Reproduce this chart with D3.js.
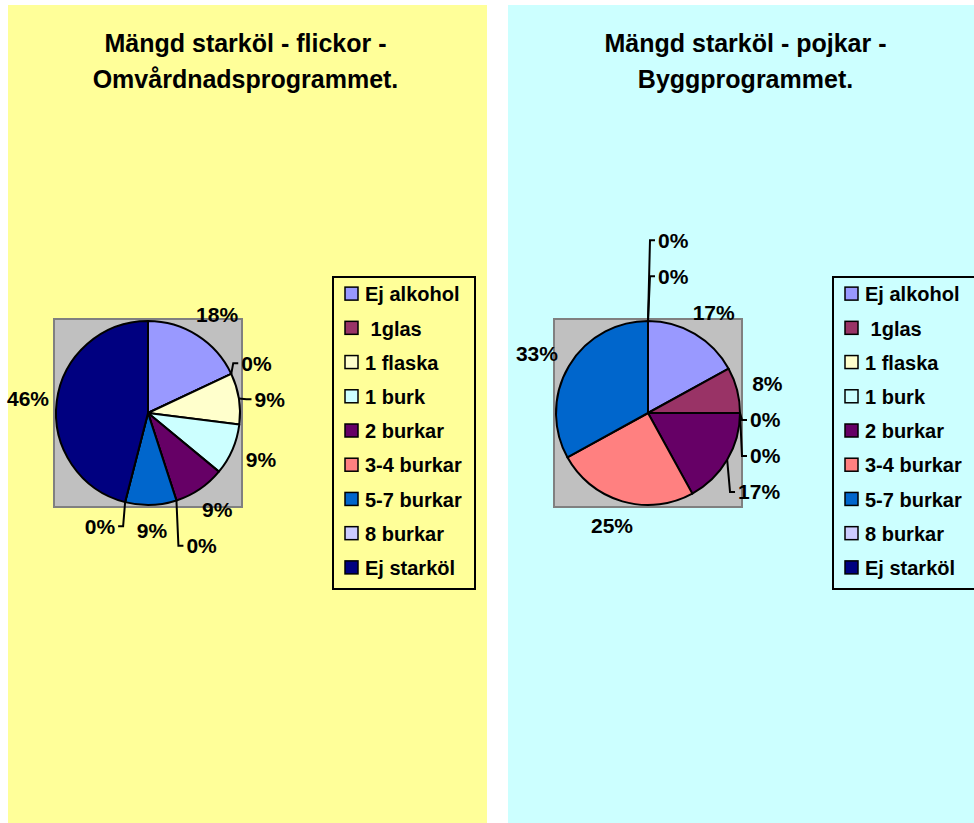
<!DOCTYPE html>
<html>
<head>
<meta charset="utf-8">
<script src="https://cdn.jsdelivr.net/npm/d3@7"></script>
<style>
  body { margin: 0; background: #fff; }
  svg { display: block; font-family: "Liberation Sans", Arial, sans-serif; font-weight: bold; }
</style>
</head>
<body>
<div id="container"></div>
<script>
// categories shared by both charts (Excel default palette)
var categories = ["Ej alkohol", " 1glas", "1 flaska", "1 burk", "2 burkar", "3-4 burkar", "5-7 burkar", "8 burkar", "Ej starköl"];
var sliceColors = ["#9999FF", "#993366", "#FFFFCC", "#CCFFFF", "#660066", "#FF8080", "#0066CC", "#CCCCFF", "#000080"];

// percentages
var girlsValues = [18, 0, 9, 9, 9, 0, 9, 0, 46];
var boysValues = [17, 8, 0, 0, 17, 25, 33, 0, 0];

var girlsTitle = ["Mängd starköl - flickor -", "Omvårdnadsprogrammet."];
var boysTitle = ["Mängd starköl - pojkar -", "Byggprogrammet."];

var width = 974,
    height = 823,
    panelW = 479,
    panelH = 818,
    radius = 92; // pie radius

var svg = d3.select("#container").append("svg")
  .attr("width", width)
  .attr("height", height);

var color = d3.scaleOrdinal().domain(categories).range(sliceColors);

// measure a label's width with the real font
function textWidth(str, size) {
  var t = svg.append("text").style("font-size", size + "px").text(str);
  var w = t.node().getComputedTextLength();
  t.remove();
  return w;
}

function drawChart(x0, bg, titleLines, values) {
  var g = svg.append("g").attr("transform", "translate(" + x0 + ",5)");

  g.append("rect")
    .attr("width", panelW).attr("height", panelH)
    .attr("fill", bg);

  // title
  g.selectAll(".title").data(titleLines).enter()
    .append("text")
    .attr("x", panelW / 2 - 2)
    .attr("y", function(d, i){ return 47 + i * 36; })
    .attr("text-anchor", "middle")
    .style("font-size", "25px")
    .text(function(d){ return d; });

  var cx = 140, cy = 408;

  // grey plot area
  g.append("rect")
    .attr("x", cx - 94).attr("y", cy - 94)
    .attr("width", 188).attr("height", 188)
    .attr("fill", "#C0C0C0")
    .attr("stroke", "#808080")
    .attr("stroke-width", 2);

  var pie = d3.pie().sort(null).value(function(d){ return d.v; });
  var arc = d3.arc().innerRadius(0).outerRadius(radius);
  var arcs = pie(values.map(function(v, i){ return {v: v, c: categories[i]}; }));

  var pg = g.append("g").attr("transform", "translate(" + cx + "," + cy + ")");
  pg.selectAll("path").data(arcs).enter()
    .append("path")
    .attr("d", arc)
    .attr("fill", function(d){ return color(d.data.c); })
    .attr("stroke", "#000")
    .attr("stroke-width", 2)
    .attr("stroke-linejoin", "round");

  // label layout -- natural spot outside the slice, then push apart
  var fs = 21, h = 18, gap = 36, pad = 8;
  var labels = arcs.map(function(d){
    var a = (d.startAngle + d.endAngle) / 2;
    var s = Math.sin(a), c = Math.cos(a);
    var txt = d.data.v + "%";
    var w = textWidth(txt, fs);
    var ax = s * radius, ay = -c * radius;
    var px = s * (radius + 16), py = -c * (radius + 16);
    var lx = px + s * w / 2, ly = py - c * h / 2;
    var zero = d.data.v === 0;
    var dir = s < -1e-9 ? -1 : 1;
    if (zero) lx = ax + dir * (10 + w / 2);
    lx = Math.max(lx, -cx + w / 2 - 1); // keep inside the chart area
    var push = c > 0.9 ? -1 : (s > 1e-9 ? 1 : -1);
    return {txt: txt, w: w, x: lx, y: ly, y0: ly, ax: ax, ay: ay, zero: zero, push: push};
  });

  labels.forEach(function(l, i){
    var hit = true;
    while (hit) {
      hit = false;
      for (var j = 0; j < i; j++) {
        var o = labels[j];
        if (Math.abs(l.x - o.x) < (l.w + o.w) / 2 + pad && Math.abs(l.y - o.y) < gap) {
          l.y = o.y + l.push * gap;
          hit = true;
        }
      }
    }
  });

  // leader lines
  pg.selectAll(".leader").data(labels.filter(function(l){ return l.zero || Math.abs(l.y - l.y0) > 1; }))
    .enter().append("path")
    .attr("fill", "none")
    .attr("stroke", "#000")
    .attr("stroke-width", 2)
    .attr("d", function(l){
      var dir = l.x >= l.ax ? 1 : -1;
      var ex = dir > 0 ? l.x - l.w / 2 - 3 : l.x + l.w / 2 + 3;
      return "M" + l.ax + "," + l.ay + "L" + (ex - 5 * dir) + "," + l.y + "L" + ex + "," + l.y;
    });

  pg.selectAll(".lbl").data(labels).enter()
    .append("text")
    .attr("x", function(l){ return l.x; })
    .attr("y", function(l){ return l.y; })
    .attr("dy", "0.36em")
    .attr("text-anchor", "middle")
    .style("font-size", fs + "px")
    .text(function(l){ return l.txt; });

  // legend
  var lx = 325, ly = 272;
  g.append("rect")
    .attr("x", lx).attr("y", ly)
    .attr("width", 142).attr("height", 312)
    .attr("fill", "none")
    .attr("stroke", "#000")
    .attr("stroke-width", 2);

  var row = d3.scaleBand().domain(categories).range([ly, ly + 308]);

  var item = g.selectAll(".leg").data(categories).enter()
    .append("g")
    .attr("transform", function(d){ return "translate(" + (lx + 12) + "," + (row(d) + row.bandwidth() / 2) + ")"; });

  item.append("rect")
    .attr("x", 0).attr("y", -7)
    .attr("width", 13).attr("height", 13)
    .attr("fill", function(d){ return color(d); })
    .attr("stroke", "#000")
    .attr("stroke-width", 1.5);

  item.append("text")
    .attr("x", 20)
    .attr("dy", "0.36em")
    .style("font-size", "20px")
    .style("white-space", "pre")
    .text(function(d){ return d; });
}

drawChart(8, "#FFFF99", girlsTitle, girlsValues);
drawChart(508, "#CCFFFF", boysTitle, boysValues);
</script>
</body>
</html>
